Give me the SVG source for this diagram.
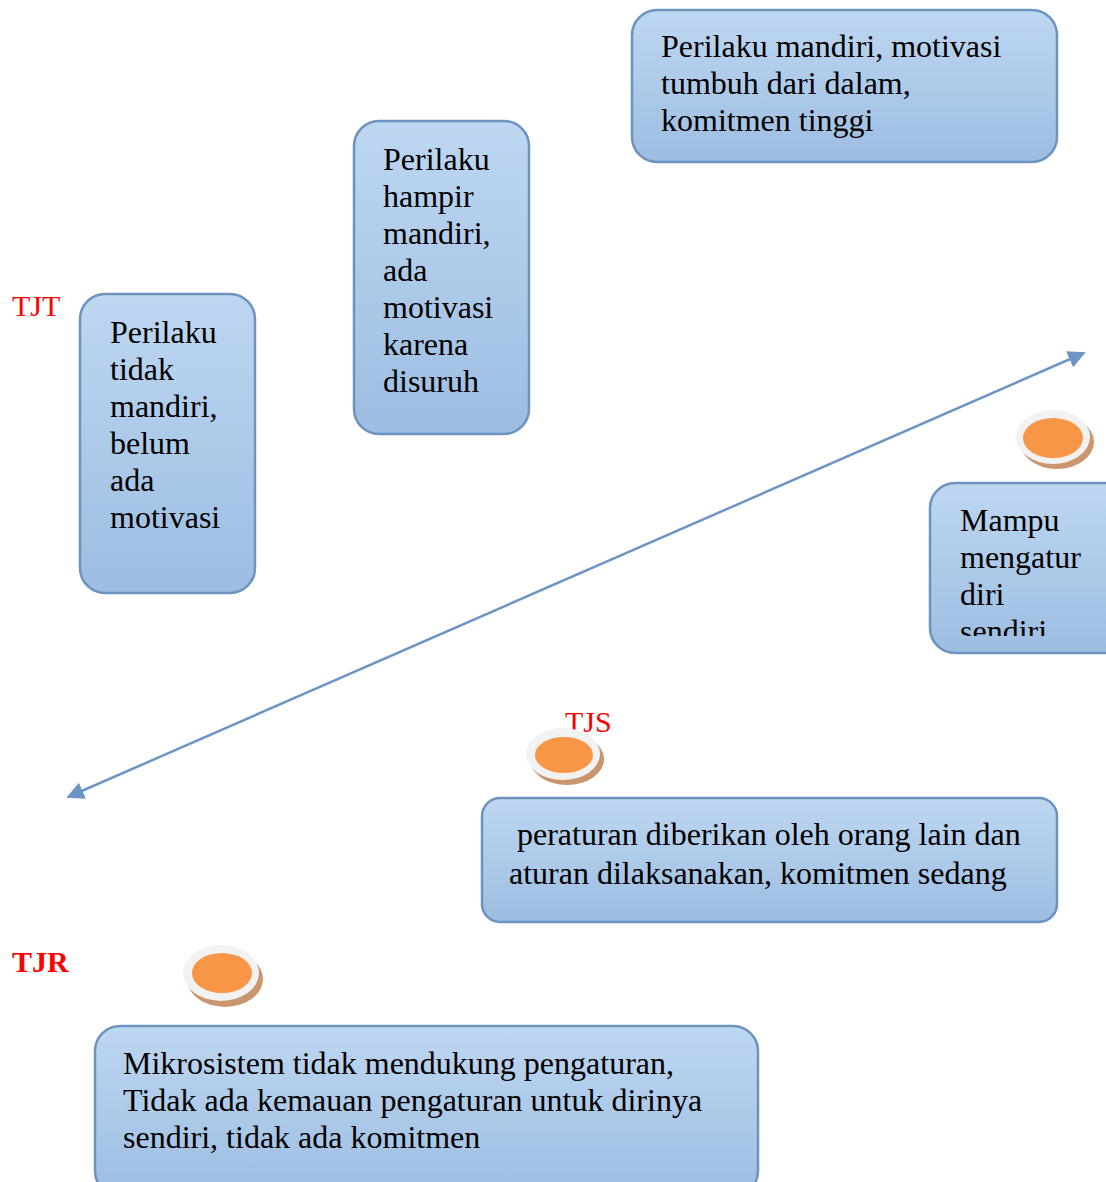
<svg xmlns="http://www.w3.org/2000/svg" width="1106" height="1182" viewBox="0 0 1106 1182">
<style>
.box{fill:url(#g);stroke:#6d93be;stroke-width:2.5}
.t{font-family:"Liberation Serif","Times New Roman",serif;font-size:32px;fill:#000}
.lbl{font-family:"Liberation Serif","Times New Roman",serif;font-size:30px;fill:#ff0000}
.sh{fill:#c9966f}
.rim{fill:#f2f2f2}
.dot{fill:#f79646}
</style>
<defs>
<linearGradient id="g" x1="0" y1="0" x2="0" y2="1">
<stop offset="0" stop-color="#bed7f1"/>
<stop offset="1" stop-color="#9dbde1"/>
</linearGradient>
<marker id="ah" viewBox="0 0 10 10" refX="9" refY="5" markerWidth="7" markerHeight="7" orient="auto-start-reverse" markerUnits="strokeWidth">
<path d="M0,0 L10,5 L0,10 z" fill="#6b96c4"/>
</marker>
<clipPath id="cm"><rect x="930" y="483" width="180" height="153"/></clipPath>
</defs>
<rect width="1106" height="1182" fill="#fff"/>
<g id="connectors">
<line x1="68" y1="797" x2="1084" y2="353" stroke="#6b96c4" stroke-width="2.5" marker-start="url(#ah)" marker-end="url(#ah)"/>
</g>
<g id="labels">
<text class="lbl" x="12" y="316">TJT</text>
<text class="lbl" x="565" y="732">TJS</text>
<text class="lbl" x="12" y="972" font-weight="bold">TJR</text>
</g>
<g id="disc1">
<ellipse class="sh" cx="1057" cy="442" rx="37" ry="27"/>
<ellipse class="rim" cx="1053" cy="437" rx="37" ry="27"/>
<ellipse class="dot" cx="1053" cy="438" rx="30" ry="20"/>
</g>
<g id="disc2">
<ellipse class="sh" cx="567" cy="759" rx="37" ry="26"/>
<ellipse class="rim" cx="563" cy="754" rx="37" ry="26"/>
<ellipse class="dot" cx="564" cy="755" rx="29" ry="18"/>
</g>
<g id="disc3">
<ellipse class="sh" cx="225" cy="979" rx="38" ry="28"/>
<ellipse class="rim" cx="221" cy="973" rx="38" ry="28"/>
<ellipse class="dot" cx="222" cy="973" rx="30" ry="20"/>
</g>
<g id="box-top">
<rect class="box" x="632" y="10" width="425" height="152" rx="25"/>
<text class="t" x="661" y="57">Perilaku mandiri, motivasi</text>
<text class="t" x="661" y="94">tumbuh dari dalam,</text>
<text class="t" x="661" y="131">komitmen tinggi</text>
</g>
<g id="box-middle">
<rect class="box" x="354" y="121" width="175" height="313" rx="25"/>
<text class="t" x="383" y="170">Perilaku</text>
<text class="t" x="383" y="207">hampir</text>
<text class="t" x="383" y="244">mandiri,</text>
<text class="t" x="383" y="281">ada</text>
<text class="t" x="383" y="318">motivasi</text>
<text class="t" x="383" y="355">karena</text>
<text class="t" x="383" y="392">disuruh</text>
</g>
<g id="box-left">
<rect class="box" x="80" y="294" width="175" height="299" rx="25"/>
<text class="t" x="110" y="343">Perilaku</text>
<text class="t" x="110" y="380">tidak</text>
<text class="t" x="110" y="417">mandiri,</text>
<text class="t" x="110" y="454">belum</text>
<text class="t" x="110" y="491">ada</text>
<text class="t" x="110" y="528">motivasi</text>
</g>
<g id="box-mampu">
<rect class="box" x="930" y="483" width="200" height="170" rx="25"/>
<g clip-path="url(#cm)">
<text class="t" x="960" y="531">Mampu</text>
<text class="t" x="960" y="568">mengatur</text>
<text class="t" x="960" y="605">diri</text>
<text class="t" x="960" y="642">sendiri</text>
</g>
</g>
<g id="box-peraturan">
<rect class="box" x="482" y="798" width="575" height="124" rx="18"/>
<text class="t" x="517" y="845">peraturan diberikan oleh orang lain dan</text>
<text class="t" x="509" y="884">aturan dilaksanakan, komitmen sedang</text>
</g>
<g id="box-mikro">
<rect class="box" x="95" y="1026" width="663" height="170" rx="25"/>
<text class="t" x="123" y="1074">Mikrosistem tidak mendukung pengaturan,</text>
<text class="t" x="123" y="1111">Tidak ada kemauan pengaturan untuk dirinya</text>
<text class="t" x="123" y="1148">sendiri, tidak ada komitmen</text>
</g>
</svg>
